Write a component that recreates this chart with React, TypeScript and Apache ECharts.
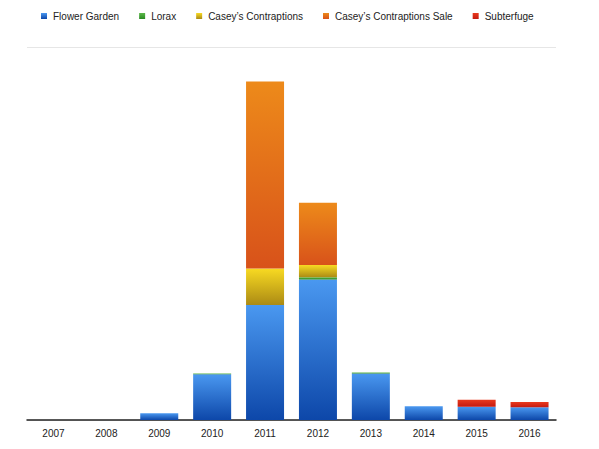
import React, { useEffect, useRef } from "react";
import * as echarts from "echarts";

const categories = ["2007", "2008", "2009", "2010", "2011", "2012", "2013", "2014", "2015", "2016"];
const flowerGarden = [0, 0, 0.9, 6.12, 15.4, 18.85, 6.25, 1.83, 1.78, 1.7];
const lorax = [0, 0, 0, 0.13, 0, 0.27, 0.13, 0, 0, 0];
const caseysContraptions = [0, 0, 0, 0, 4.92, 1.65, 0, 0, 0, 0];
const caseysContraptionsSale = [0, 0, 0, 0, 25.05, 8.35, 0, 0, 0, 0];
const subterfuge = [0, 0, 0, 0, 0, 0, 0, 0, 0.94, 0.71];

const grad = (top: string, bottom: string) =>
  new echarts.graphic.LinearGradient(0, 0, 0, 1, [
    { offset: 0, color: top },
    { offset: 1, color: bottom },
  ]);

export default function App() {
  const ref = useRef<HTMLDivElement>(null);
  useEffect(() => {
    if (!ref.current) return;
    const chart = echarts.init(ref.current, null, { renderer: "svg" });
    const mk = (name: string, data: number[], top: string, bottom: string) => ({
      name,
      type: "bar",
      stack: "total",
      data,
      barWidth: 38,
      itemStyle: { color: grad(top, bottom) },
    });
    chart.setOption({
      animation: false,
      backgroundColor: "#ffffff",
      textStyle: { fontFamily: "Liberation Sans, Arial, sans-serif" },
      legend: {
        left: 41,
        top: 11,
        padding: 0,
        itemWidth: 6,
        itemHeight: 6,
        itemGap: 20,
        icon: "rect",
        textStyle: { fontSize: 10, color: "#222", padding: [0, 0, 0, 1] },
        data: [
          "Flower Garden",
          "Lorax",
          "Casey\u2019s Contraptions",
          "Casey\u2019s Contraptions Sale",
          "Subterfuge",
        ],
      },
      grid: { left: 27, right: 43, top: 47, bottom: 29, containLabel: false },
      xAxis: {
        type: "category",
        data: categories,
        axisLine: { lineStyle: { color: "#222", width: 1.5 } },
        axisTick: { show: false },
        axisLabel: { fontSize: 10, color: "#222", margin: 8 },
      },
      yAxis: {
        type: "value",
        min: 0,
        max: 50,
        interval: 50,
        axisLabel: { show: false },
        axisLine: { show: false },
        axisTick: { show: false },
        splitLine: { lineStyle: { color: "#e6e6e6", width: 1 } },
      },
      series: [
        mk("Flower Garden", flowerGarden, "#4a98f0", "#0d47a9"),
        mk("Lorax", lorax, "#5cb84a", "#2a8a22"),
        mk("Casey\u2019s Contraptions", caseysContraptions, "#f8da22", "#ab8a14"),
        mk("Casey\u2019s Contraptions Sale", caseysContraptionsSale, "#ed8a1a", "#d8521a"),
        mk("Subterfuge", subterfuge, "#ea3a1e", "#c41a10"),
      ],
    });
    return () => chart.dispose();
  }, []);
  return <div ref={ref} style={{ width: 599, height: 449, position: "absolute", left: 0, top: 0 }} />;
}
